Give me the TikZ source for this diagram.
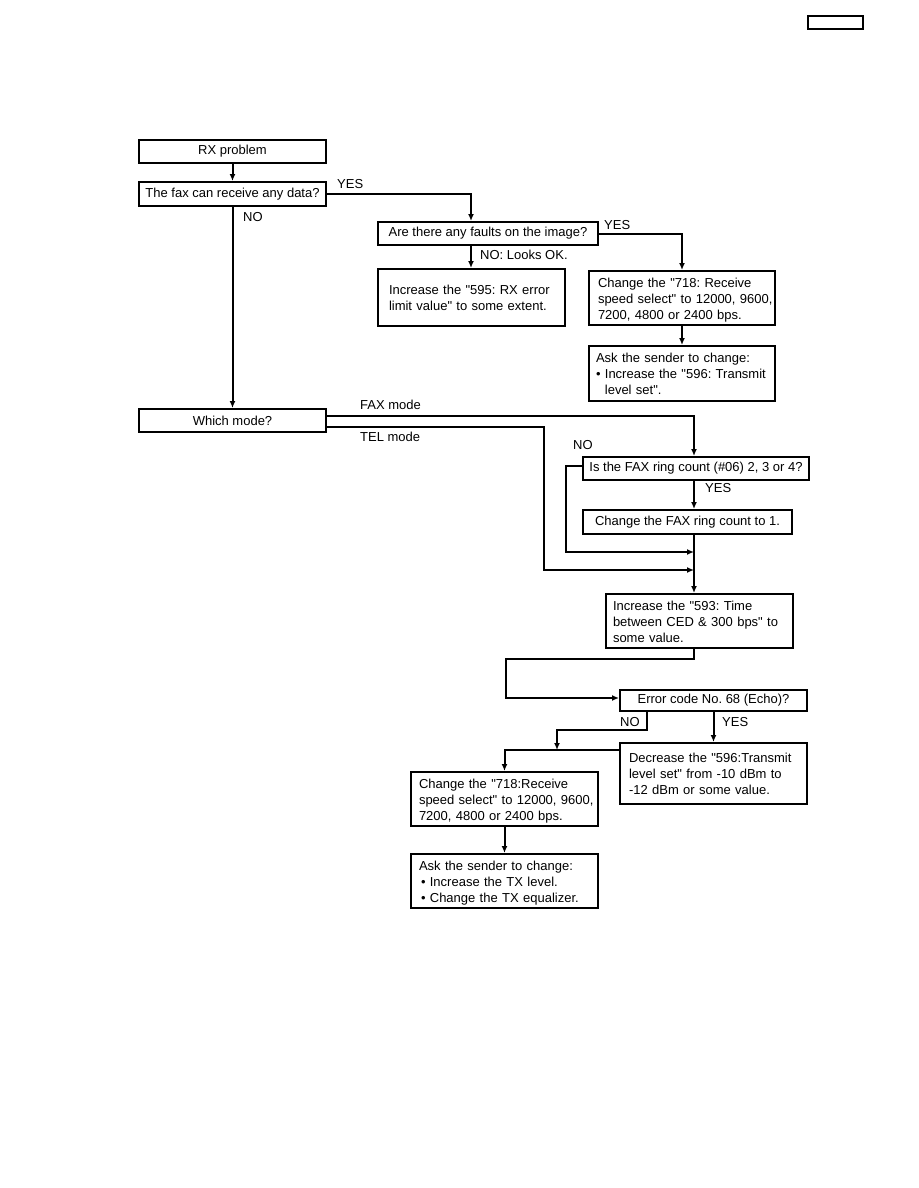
\documentclass[tikz,border=0pt]{standalone}
\usepackage{fontspec}
\setmainfont{Liberation Sans}[Ligatures=TeXOff]
\usetikzlibrary{arrows.meta}
\newcommand\fs{\fontsize{13pt}{16pt}\selectfont\frenchspacing}
\newcommand\lt[2]{\hspace*{#1}\raisebox{-2pt}[\height][\depth]{\begin{tabular}{@{}l@{}}#2\end{tabular}}}
\begin{document}
\begin{tikzpicture}[x=1pt,y=-1pt,
  cbox/.style={draw, line width=2pt, anchor=north west, inner sep=0pt, align=center, font=\fs},
  lbox/.style={draw, line width=2pt, anchor=north west, inner sep=0pt, align=left, font=\fs},
  lab/.style={font=\fs, inner sep=0pt},
  conn/.style={line width=2pt},
  arr/.style={conn, -{Latex[length=7pt,width=6pt]}}
]
\useasboundingbox (0,0) rectangle (918,1188);
\fill[white] (0,0) rectangle (918,1188);

% top-right empty box
\node[draw, line width=2pt, anchor=north west, minimum width=55pt, minimum height=13pt, inner sep=0pt] (hdr) at (807,15) {};

% nodes
\node[cbox, minimum width=187pt, minimum height=23pt] (rx) at (138,139) {RX problem};
\node[cbox, minimum width=187pt, minimum height=24pt] (fax) at (138,181) {The fax can receive any data?};
\node[cbox, minimum width=220pt, minimum height=23pt] (faults) at (377,221) {Are there any faults on the image?};
\node[lbox, text width=187pt, minimum height=57pt] (inc595) at (377,268)
  {\lt{11pt}{Increase the "595: RX error\\limit value" to some extent.}};
\node[lbox, text width=186pt, minimum height=54pt] (chga) at (588,270)
  {\lt{9pt}{Change the "718: Receive\\speed select" to 12000, 9600,\\7200, 4800 or 2400 bps.}};
\node[lbox, text width=186pt, minimum height=55pt] (aska) at (588,345)
  {\lt{7pt}{Ask the sender to change:\\\textbullet\ Increase the "596: Transmit\\\phantom{\textbullet\ }level set".}};
\node[cbox, minimum width=187pt, minimum height=23pt] (which) at (138,408) {Which mode?};
\node[cbox, minimum width=226pt, minimum height=23pt] (ring) at (582,456) {Is the FAX ring count (\#06) 2, 3 or 4?};
\node[cbox, minimum width=209pt, minimum height=24pt] (chgring) at (582,509) {Change the FAX ring count to 1.};
\node[lbox, text width=187pt, minimum height=54pt] (inc593) at (605,593)
  {\lt{7pt}{Increase the "593: Time\\between CED \& 300 bps" to\\some value.}};
\node[cbox, minimum width=187pt, minimum height=21pt] (err) at (619,689) {Error code No. 68 (Echo)?};
\node[lbox, text width=187pt, minimum height=61pt] (dec) at (619,742)
  {\lt{9pt}{Decrease the "596:Transmit\\level set" from -10 dBm to\\-12 dBm or some value.}};
\node[lbox, text width=187pt, minimum height=54pt] (chgb) at (410,771)
  {\lt{8pt}{Change the "718:Receive\\speed select" to 12000, 9600,\\7200, 4800 or 2400 bps.}};
\node[lbox, text width=187pt, minimum height=54pt] (askb) at (410,853)
  {\lt{8pt}{Ask the sender to change:\\\hspace*{2pt}\textbullet\ Increase the TX level.\\\hspace*{2pt}\textbullet\ Change the TX equalizer.}};

% labels
\node[lab, anchor=west] (l1) at (337,184) {YES};
\node[lab, anchor=west] (l2) at (243,217) {NO};
\node[lab, anchor=west] (l3) at (604,225) {YES};
\node[lab, anchor=west] (l4) at (480,255) {NO: Looks OK.};
\node[lab, anchor=west] (l5) at (360,405) {FAX mode};
\node[lab, anchor=west] (l6) at (360,437) {TEL mode};
\node[lab, anchor=west] (l7) at (573,445) {NO};
\node[lab, anchor=west] (l8) at (705,488) {YES};
\node[lab, anchor=west] (l9) at (620,722) {NO};
\node[lab, anchor=west] (l10) at (722,722) {YES};

% junction coordinates
\coordinate (j1) at (694,552);
\coordinate (j2) at (694,570);
\coordinate (j3) at (557,750);

% connectors
\draw[arr] (rx) -- (fax);
\draw[arr] (fax.east) -| ([xshift=94pt]faults.north west);
\draw[arr] (fax.south) -- (which.north);
\draw[arr] ([xshift=94pt]faults.south west) -- ([xshift=94pt]inc595.north west);
\draw[arr] (faults.east) -| (chga.north);
\draw[arr] (chga) -- (aska);
\draw[arr] ([yshift=5pt]which.east) -| ([xshift=112pt]ring.north west);
\draw[arr] ([yshift=-6pt]which.east) -| (544,570) -- (j2);
\draw[arr] ([yshift=3pt]ring.west) -| (566,552) -- (j1);
\draw[arr] ([xshift=112pt]ring.south west) -- ([xshift=112pt]chgring.north west);
\draw[arr] ([xshift=112pt]chgring.south west) -- ([xshift=89pt]inc593.north west);
\draw[arr] ([xshift=89pt]inc593.south west) -- (694,659) -| (506,698) -- (err.west |- 0,698);
\draw[arr] (err) -- (dec);
\draw[arr] ([xshift=28pt]err.south west) -- (647,730) -| (j3);
\draw[arr] ([yshift=-8pt]dec.north west) -| (chgb.north);
\draw[arr] (chgb) -- (askb);
\end{tikzpicture}
\end{document}
